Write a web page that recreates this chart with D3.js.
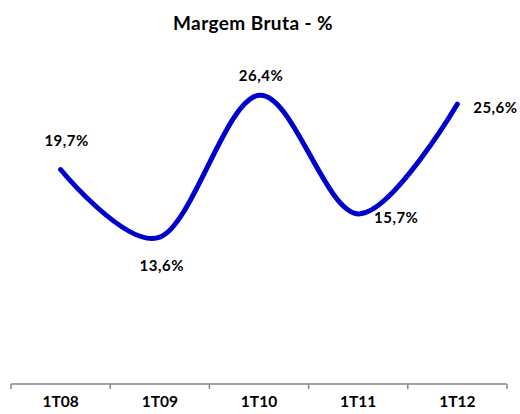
<!DOCTYPE html>
<html>
<head>
<meta charset="utf-8">
<script src="https://cdn.jsdelivr.net/npm/d3@7"></script>
<style>
  body { margin: 0; background: #fff; }
  svg { display: block; font-family: Lato, "Open Sans", sans-serif; }
</style>
</head>
<body>
<svg id="chart" width="520" height="414"></svg>
<script>
// Margem Bruta by quarter
const categories = ["1T08", "1T09", "1T10", "1T11", "1T12"];
const values = [19.7, 13.6, 26.4, 15.7, 25.6];
const labels = ["19,7%", "13,6%", "26,4%", "15,7%", "25,6%"];
const labelSide = ["above", "below", "above", "right", "right"];

const svg = d3.select("#chart");

svg.append("text")
    .attr("x", 253).attr("y", 30)
    .attr("text-anchor", "middle")
    .style("font-size", "19px").style("font-weight", "bold")
    .style("letter-spacing", "0.4px")
    .text("Margem Bruta - %");

const x = d3.scaleBand().domain(categories).range([11, 507]);
const y = d3.scaleLinear().domain([0, 30]).range([388, 55.3]);

// x axis
const axis = svg.append("g").attr("transform", "translate(0,384)");
axis.append("line")
    .attr("x1", 11).attr("x2", 507)
    .attr("stroke", "#868686").attr("stroke-width", 1.5);
const edges = categories.map(c => x(c)).concat([x.range()[1]]);
axis.selectAll(".tick")
    .data(edges)
    .enter().append("line")
    .attr("x1", d => d).attr("x2", d => d)
    .attr("y1", 0).attr("y2", 5)
    .attr("stroke", "#868686").attr("stroke-width", 1.5);
axis.selectAll(".cat")
    .data(categories)
    .enter().append("text")
    .attr("x", d => x(d) + x.bandwidth() / 2)
    .attr("y", 23)
    .attr("text-anchor", "middle")
    .style("font-size", "15.5px").style("font-weight", "bold")
    .text(d => d);

const pts = categories.map((c, i) => [x(c) + x.bandwidth() / 2, y(values[i])]);

const line = d3.line().curve(d3.curveCatmullRom.alpha(0));
svg.append("path")
    .attr("d", line(pts))
    .attr("fill", "none")
    .attr("stroke", "#0000CC")
    .attr("stroke-width", 5)
    .attr("stroke-linecap", "round")
    .attr("stroke-linejoin", "round");

// data labels
svg.selectAll(".lbl")
    .data(pts)
    .enter().append("text")
    .attr("x", (d, i) => {
        if (labelSide[i] === "right") return d[0] + 38;
        return d[0] + (i === 0 ? 6 : 2);
    })
    .attr("y", (d, i) => {
        if (labelSide[i] === "above") return d[1] - (i === 0 ? 23.5 : 14.5);
        if (labelSide[i] === "below") return d[1] + 33.5;
        return d[1] + 9;
    })
    .attr("text-anchor", "middle")
    .style("font-size", "15px").style("font-weight", "bold")
    .style("letter-spacing", "0.5px")
    .text((d, i) => labels[i]);
</script>
</body>
</html>
